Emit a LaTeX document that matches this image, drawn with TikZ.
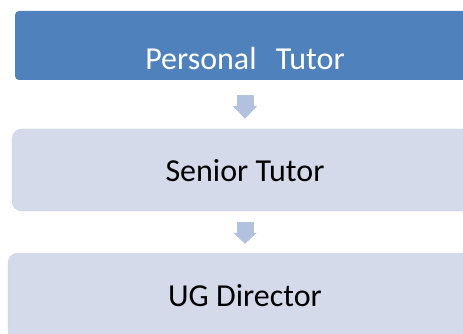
\documentclass[tikz,border=0pt]{standalone}
\usepackage{fontspec}
\setmainfont{Carlito}
\usetikzlibrary{arrows.meta}

\definecolor{topbox}{HTML}{4F81BD}
\definecolor{lowbox}{HTML}{D4DAEA}
\definecolor{lowedge}{HTML}{CBD2E6}
\definecolor{flowcol}{HTML}{B1C1DE}

\begin{document}
\begin{tikzpicture}[x=1pt,y=-1pt,
    level/.style={rectangle,inner sep=0pt,anchor=base,font=\fontsize{32}{38}\selectfont},
    flow/.style={draw=flowcol,line width=17pt,-{Triangle[length=13pt,width=24pt]}}]
    \useasboundingbox (0,0) rectangle (463,334);
    \clip (0,0) rectangle (463,334);

    % the three levels
    \node[level,fill=topbox,text=white,rounded corners=4pt,
          minimum width=460pt,text height=59pt,text depth=10pt]
          (personal) at (245,70) {Personal\hspace{0.6em}Tutor};
    \node[level,fill=lowbox,draw=lowedge,rounded corners=10pt,
          minimum width=466pt,text height=52pt,text depth=30pt]
          (senior) at (245,181) {Senior Tutor};
    \node[level,fill=lowbox,draw=lowedge,rounded corners=10pt,
          minimum width=474pt,text height=53pt,text depth=35pt]
          (director) at (245,306) {UG Director};

    % arrows between them
    \draw[flow] ([yshift=-15pt]personal.south) -- ([yshift=10pt]senior.north);
    \draw[flow,-{Triangle[length=11pt,width=23pt]}]
      ([yshift=-11pt]senior.south) -- ([yshift=9pt]director.north);
\end{tikzpicture}
\end{document}
